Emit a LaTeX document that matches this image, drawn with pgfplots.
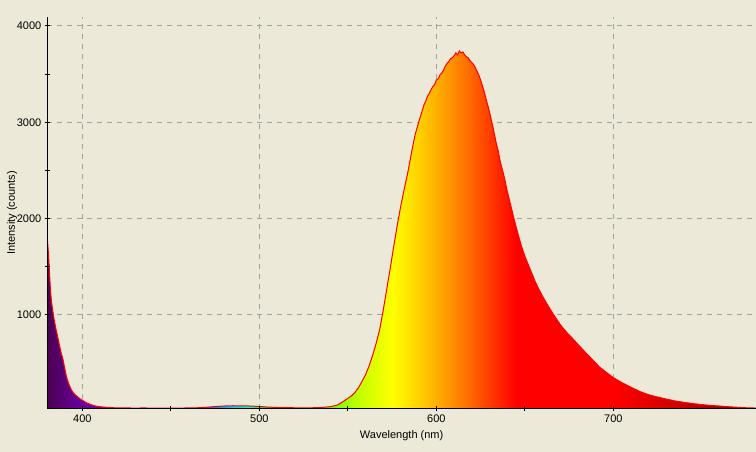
\documentclass[border=0pt]{standalone}
\usepackage{fontspec}
\setmainfont{Liberation Sans}
\usepackage{pgfplots}
\usepackage{pgfplotstable}
\pgfplotsset{compat=1.18}
\definecolor{bg}{RGB}{236,233,216}
\definecolor{gridc}{RGB}{160,160,160}
\definecolor{s380}{RGB}{75,0,80}
\definecolor{s400}{RGB}{105,0,165}
\definecolor{s420}{RGB}{110,0,200}
\definecolor{s450}{RGB}{50,40,255}
\definecolor{s470}{RGB}{0,110,255}
\definecolor{s485}{RGB}{0,210,255}
\definecolor{s495}{RGB}{0,255,200}
\definecolor{s505}{RGB}{0,240,80}
\definecolor{s520}{RGB}{20,230,0}
\definecolor{s540}{RGB}{100,255,0}
\definecolor{s555}{RGB}{190,255,0}
\definecolor{s575}{RGB}{255,255,0}
\definecolor{s590}{RGB}{255,210,0}
\definecolor{s600}{RGB}{255,175,0}
\definecolor{s615}{RGB}{255,120,0}
\definecolor{s630}{RGB}{255,60,0}
\definecolor{s645}{RGB}{255,0,0}
\definecolor{s700}{RGB}{255,0,0}
\definecolor{s740}{RGB}{200,0,0}
\definecolor{s780}{RGB}{120,0,0}
\pgfdeclarehorizontalshading{spectrum}{100bp}{
color(0bp)=(s380); color(25bp)=(s380); color(27.47bp)=(s400); color(29.97bp)=(s420);
color(33.72bp)=(s450); color(36.21bp)=(s470); color(38.09bp)=(s485); color(39.34bp)=(s495);
color(40.58bp)=(s505); color(42.46bp)=(s520); color(44.96bp)=(s540); color(46.83bp)=(s555);
color(49.33bp)=(s575); color(51.20bp)=(s590); color(52.45bp)=(s600); color(54.32bp)=(s615);
color(56.20bp)=(s630); color(58.07bp)=(s645); color(64.94bp)=(s700); color(69.94bp)=(s740);
color(75bp)=(s780); color(100bp)=(s780)}
\pgfplotsset{
  layers/mylayers/.define layer set={axis background,axis grid,pre main,main,axis ticks,axis lines,axis tick labels,axis descriptions,axis foreground}{/pgfplots/layers/standard},
}
\pgfplotstableread{
x y
380.2 1800
380.8 1650
381.5 1420
382 1250
382.5 1150
383 1080
384 960
385 860
386 780
387 690
388 610
389 545
390 450
391 360
392 300
393 255
394 215
395 190
396 170
397 155
398 140
399 125
400 115
402 92
404 75
406 62
408 53
410 48
412 44
414 41
416 39
418 37
420 36
425 35
430 34
435 35
440 33
445 34
450 33
455 34
460 35
465 37
470 42
475 50
480 55
485 58
490 57
495 55
500 50
505 44
510 40
515 38
520 37
525 36
530 37
535 40
540 48
542 55
544 65
546 85
548 110
550 135
552 160
554 195
556 245
558 310
560 380
562 470
564 580
566 706
568 850
570 1050
572 1270
574 1490
576 1720
578 1940
580 2140
582 2320
584 2490
586 2690
588 2870
590 3000
591 3060
592 3120
593 3180
594 3220
595 3270
596 3300
597 3340
598 3370
599 3390
600 3440
601 3450
602 3490
603 3510
604 3540
605 3580
606 3610
607 3630
608 3660
609 3670
610 3690
611 3720
612 3700
613 3740
614 3720
615 3730
616 3700
617 3680
618 3670
619 3640
620 3620
621 3600
622 3570
623 3530
624 3490
625 3440
626 3380
627 3320
628 3250
629 3180
630 3110
631 3030
632 2950
633 2860
634 2770
635 2700
636 2600
637 2530
638 2460
639 2380
640 2290
642 2140
644 1990
646 1850
648 1720
650 1610
652 1520
654 1430
656 1340
658 1265
660 1195
662 1130
664 1070
666 1010
668 955
670 900
672 855
674 812
676 775
678 735
680 695
684 615
688 540
692 463
696 405
700 350
705 295
710 250
715 205
720 172
725 148
730 127
735 107
740 93
745 80
750 70
755 61
760 55
765 48
770 42
775 37
780.6 34
}\spectrumdata
\begin{document}
\pagecolor{bg}%
\begin{tikzpicture}
\begin{axis}[
  set layers=mylayers,
  scale only axis,
  width=708.7pt, height=392pt,
  xmin=380.2, xmax=780.6, ymin=24.2, ymax=4093,
  axis lines*=left,
  axis line style={black, line width=1pt},
  xtick={400,500,600,700}, ytick={1000,2000,3000,4000},
  minor x tick num=1, minor y tick num=1,
  tick align=center,
  major tick length=5pt, minor tick length=5pt,
  tick style={black, line width=1pt},
  grid=major,
  major grid style={gridc, line width=1pt, dash pattern=on 5pt off 5pt},
  scaled ticks=false,
  /pgf/number format/1000 sep={},
  /pgf/number format/assume math mode=true,
  tick label style={font=\fontsize{11}{13}\selectfont, black},
  clip=true,
]
\addplot[draw=none, shade, shading=spectrum] table[x=x,y=y] {\spectrumdata} \closedcycle;
\addplot[draw=red, line width=1pt] table[x=x,y=y] {\spectrumdata};
\end{axis}
\node[font=\fontsize{11}{13}\selectfont] at (354.35pt,-26.7pt) {Wavelength (nm)};
\node[font=\fontsize{11}{13}\selectfont, rotate=90] at (-35.3pt,196pt) {Intensity (counts)};
\pgfresetboundingbox
\useasboundingbox (-47.3pt,-43pt) rectangle (708.7pt,409pt);
\end{tikzpicture}
\end{document}
